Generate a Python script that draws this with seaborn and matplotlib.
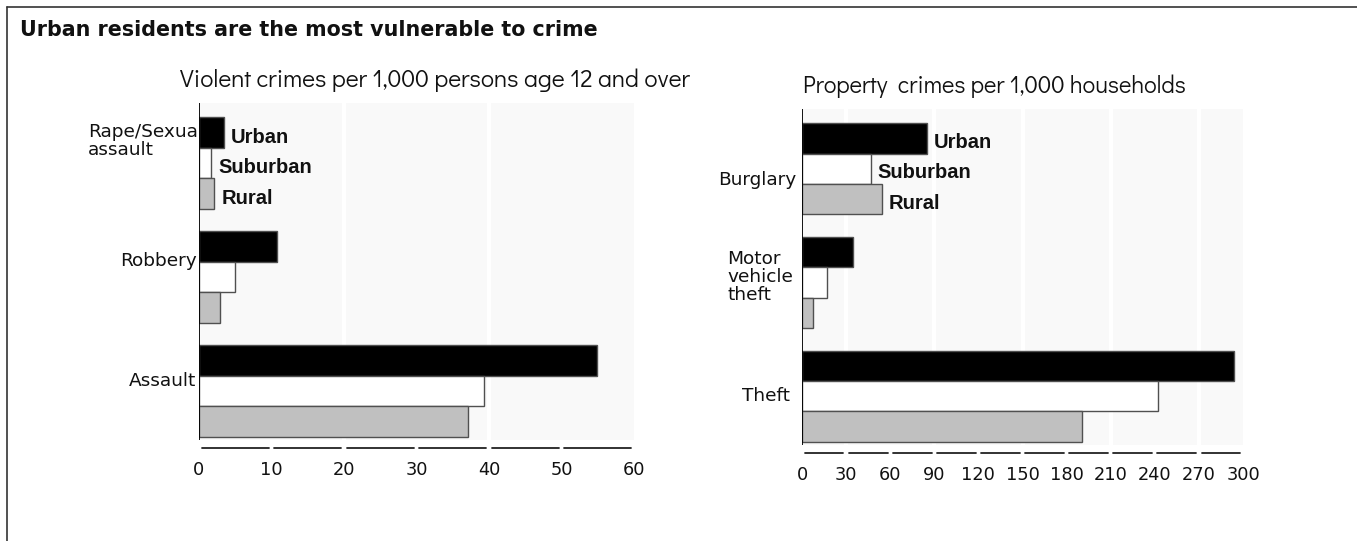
import numpy as np
import pandas as pd
import matplotlib
matplotlib.use("Agg")
import matplotlib.pyplot as plt
import matplotlib.transforms as mtransforms
import seaborn as sns

# ---------------- data ----------------
areas = ["Urban", "Suburban", "Rural"]

violent_crimes = ["Rape/Sexual\nassault", "Robbery", "Assault"]
violent_urban = [3.4, 10.8, 54.9]
violent_suburban = [1.7, 5.0, 39.3]
violent_rural = [2.1, 2.9, 37.1]

property_crimes = ["Burglary", "Motor\nvehicle\ntheft", "Theft"]
property_urban = [84.7, 34.6, 293.6]
property_suburban = [46.8, 17.1, 242.0]
property_rural = [54.2, 7.3, 190.5]

violent_ticks = [0, 10, 20, 30, 40, 50, 60]
property_ticks = [0, 30, 60, 90, 120, 150, 180, 210, 240, 270, 300]

title = "Urban residents are the most vulnerable to crime"
violent_title = "Violent crimes per 1,000 persons age 12 and over"
property_title = "Property  crimes per 1,000 households"

# ---------------- styling ----------------
sns.set_theme(style="white")
plt.rcParams["font.family"] = ["DejaVu Sans"]

WIDE = ["DejaVu Sans"]
NARROW_BOLD = ["Liberation Sans Narrow", "Arimo", "Liberation Sans", "DejaVu Sans"]
GOTHIC = ["Didact Gothic", "Questrial", "Mulish", "DejaVu Sans"]

palette = {"Urban": "#000000", "Suburban": "#ffffff", "Rural": "#c0c0c0"}
BG = "#f9f9f9"

fig = plt.figure(figsize=(13.57, 5.41), dpi=100)
W, H = 1357, 541


def px_axes(x0, y0, x1, y1):
    return fig.add_axes([x0 / W, 1 - y1 / H, (x1 - x0) / W, (y1 - y0) / H])


def make_panel(ax, cats, u, s, r, ticks, grid_vals, label_layout, legend_dy):
    df = pd.DataFrame({
        "crime": np.repeat(cats, 3),
        "area": areas * len(cats),
        "rate": np.ravel(np.column_stack([u, s, r])),
    })
    sns.barplot(data=df, y="crime", x="rate", hue="area", order=cats,
                hue_order=areas, palette=palette, orient="h", width=0.8,
                edgecolor="#505050", linewidth=1.0, saturation=1,
                legend=False, ax=ax, zorder=3)
    ax.set_facecolor(BG)
    for sp in ax.spines.values():
        sp.set_visible(False)
    ax.axvline(0, color="black", lw=1.3, zorder=5)
    for g in grid_vals:
        ax.axvline(g, color="white", lw=3, zorder=1)
    ax.set_xlim(ticks[0], ticks[-1])
    ax.set_ylim(2.43, -0.526)
    ax.set_xlabel("")
    ax.set_ylabel("")
    ax.set_yticks([])
    ax.set_xticks(ticks)
    ax.set_xticklabels([str(t) for t in ticks], family=WIDE, fontsize=12.8,
                       color="#111111")
    ax.tick_params(axis="x", length=0, pad=15)

    # broken baseline under the axis
    bt = mtransforms.blended_transform_factory(ax.transData, ax.transAxes)
    span = ticks[-1] - ticks[0]
    gap = span * 0.006
    for t0, t1 in zip(ticks[:-1], ticks[1:]):
        ax.plot([t0 + gap, t1 - gap], [-0.025, -0.025], color="#222222",
                lw=1.3, transform=bt, clip_on=False)

    # category labels
    lt = mtransforms.blended_transform_factory(ax.transAxes, ax.transData)
    for i, (lab, (xa, dy, ha)) in enumerate(zip(cats, label_layout)):
        ax.text(xa, i + dy, lab, transform=lt, ha=ha, va="center",
                family=WIDE, fontsize=13.3, color="#111111",
                linespacing=1.0, zorder=0.5, clip_on=False)

    # in-chart legend next to the first group of bars
    first = [u[0], s[0], r[0]]
    for k, (name, val) in enumerate(zip(areas, first)):
        yc = -0.4 + 0.8 / 6 + k * 0.8 / 3
        ax.annotate(name, (val, yc), xytext=(7, -legend_dy), textcoords="offset pixels",
                    ha="left", va="center", family=NARROW_BOLD,
                    fontweight="bold", fontsize=14.5, color="#111111", zorder=6)


# left panel
ax1 = px_axes(199, 103, 634, 440)
make_panel(ax1, violent_crimes, violent_urban, violent_suburban, violent_rural,
           violent_ticks, [20, 40],
           [(-0.255, -0.19, "left"), (-0.005, -0.14, "right"), (-0.007, -0.09, "right")],
           5)

# right panel
ax2 = px_axes(802, 109, 1243, 445)
make_panel(ax2, property_crimes, property_urban, property_suburban, property_rural,
           property_ticks, [30, 90, 150, 210, 270],
           [(-0.012, 0.10, "right"), (-0.170, -0.05, "left"), (-0.027, 0.0, "right")],
           4)

# titles
fig.text(20 / W, 1 - 30 / H, title, ha="left", va="center", family=WIDE,
         fontweight="bold", fontsize=14.85, color="#111111")
fig.text(180 / W, 1 - 80 / H, violent_title, ha="left", va="center",
         family=GOTHIC, fontsize=17.7, color="#111111")
fig.text(803 / W, 1 - 86 / H, property_title, ha="left", va="center",
         family=GOTHIC, fontsize=17.1, color="#111111")

# frame (left and top edges visible)
fig.add_artist(plt.Line2D([7 / W, 7 / W], [0, 1 - 7 / H], color="#333333", lw=1.2,
                          transform=fig.transFigure))
fig.add_artist(plt.Line2D([7 / W, 1], [1 - 7 / H, 1 - 7 / H], color="#333333", lw=1.2,
                          transform=fig.transFigure))

fig.savefig("out.png", dpi=100, facecolor="white")
